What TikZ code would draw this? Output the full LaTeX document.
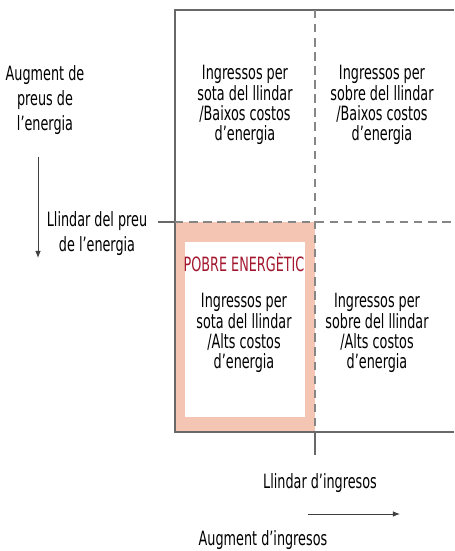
\documentclass[tikz,border=0pt]{standalone}
\usepackage{fontspec}
\setmainfont{DejaVu Sans}[FakeStretch=0.65]
\usetikzlibrary{arrows.meta,positioning}

\definecolor{salmon}{HTML}{F5C5B3}
\definecolor{darkred}{HTML}{A3172E}
\definecolor{linegray}{HTML}{686868}

\tikzset{
  quad/.style={align=center,inner sep=0pt,font=\fontsize{14}{14.4}\selectfont},
  side/.style={align=center,inner sep=0pt,font=\fontsize{14}{17.7}\selectfont},
  frame/.style={draw=linegray,line width=0.8pt},
  guide/.style={draw=linegray!80,line width=0.8pt,dash pattern=on 6pt off 4pt},
  axis/.style={draw=black!75,line width=0.7pt,-{Latex[length=5pt,width=4pt]}}
}

\begin{document}
\begin{tikzpicture}[x=0.025cm,y=-0.025cm]
    \useasboundingbox (0,0) rectangle (454,551);

    % energy poor quadrant
    \fill[salmon] (175,222) rectangle (315,432);
    \fill[white] (185,242) rectangle (305,417);

    \coordinate (tl) at (175,10);
    \coordinate (tr) at (454,10);
    \coordinate (bl) at (175,432);
    \coordinate (br) at (454,432);
    \draw[frame] (tr) -- (tl) -- (bl) -- (br);

    \coordinate (vtop) at (315,10);
    \coordinate (vmid) at (315,432);
    \coordinate (vend) at (315,455);
    \coordinate (hstart) at (158,222);
    \coordinate (hmid) at (175,222);
    \coordinate (hend) at (454,222);
    \draw[guide] (vtop) -- (vmid);
    \draw[frame] (vmid) -- (vend);
    \draw[guide] (hmid) -- (hend);
    \draw[frame] (hstart) -- (hmid);

    \node[quad] (q1) at (245,105) {Ingressos per\\sota del llindar\\/Baixos costos\\d'energia};
    \node[quad] (q2) at (382,105) {Ingressos per\\sobre del llindar\\/Baixos costos\\d'energia};
    \node[quad,text=darkred] (poor) at (244,263) {POBRE ENERGÈTIC};
    \node[quad] (q3) at (244,333) {Ingressos per\\sota del llindar\\/Alts costos\\d'energia};
    \node[quad] (q4) at (377,333) {Ingressos per\\sobre del llindar\\/Alts costos\\d'energia};

    \node[side] (pricerise) at (45,100) {Augment de\\preus de\\l'energia};
    \node[side] (pricelim) at (97,234) {Llindar del preu\\de l'energia};
    \node[side] (incomelim) at (320,483) {Llindar d'ingresos};
    \node[side] (incomerise) at (263,540) {Augment d'ingresos};

    \coordinate (down1) at (38,157);
    \coordinate (down2) at (38,258);
    \coordinate (right1) at (308,514);
    \coordinate (right2) at (400,514);
    \draw[axis] (down1) -- (down2);
    \draw[axis] (right1) -- (right2);
\end{tikzpicture}
\end{document}
